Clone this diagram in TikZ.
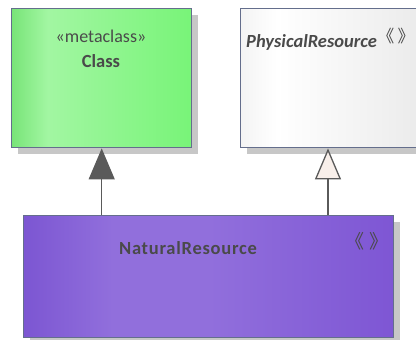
\documentclass[tikz,border=0pt]{standalone}
\usepackage{fontspec}
\setmainfont{Carlito}
\newfontfamily\cjkfont{Noto Sans CJK SC}
\usetikzlibrary{arrows.meta,shadows,positioning}

\definecolor{umlborder}{HTML}{646E8C}
\definecolor{umltext}{HTML}{4A4A4A}
\definecolor{umlline}{HTML}{5A5A5A}
\definecolor{hollowfill}{HTML}{F8EFEA}
\definecolor{greenA}{HTML}{78E478}
\definecolor{greenB}{HTML}{A2F6A2}
\definecolor{greenC}{HTML}{78F478}
\definecolor{greyA}{HTML}{F4F4F4}
\definecolor{greyB}{HTML}{FFFFFF}
\definecolor{greyC}{HTML}{EBEBEB}
\definecolor{purpleA}{HTML}{7C56D2}
\definecolor{purpleB}{HTML}{916FDC}
\definecolor{purpleC}{HTML}{7E56D4}

\pgfdeclarehorizontalshading{greenfill}{100bp}{color(0bp)=(greenA); color(25bp)=(greenA); color(35bp)=(greenB); color(75bp)=(greenC); color(100bp)=(greenC)}
\pgfdeclarehorizontalshading{greyfill}{100bp}{color(0bp)=(greyA); color(25bp)=(greyA); color(35bp)=(greyB); color(75bp)=(greyC); color(100bp)=(greyC)}
\pgfdeclarehorizontalshading{purplefill}{100bp}{color(0bp)=(purpleA); color(25bp)=(purpleA); color(37bp)=(purpleB); color(50bp)=(purpleB); color(75bp)=(purpleC); color(100bp)=(purpleC)}

\begin{document}
\begin{tikzpicture}[x=1pt, y=-1pt,
  umlbox/.style={draw=umlborder, line width=1.4pt, rectangle, anchor=north west, inner sep=0pt,
    general shadow={fill=black!22, shadow xshift=6pt, shadow yshift=-6pt}},
  boxtext/.style={text=umltext, inner sep=0pt, anchor=base, font=\fontsize{18.5}{20}\selectfont},
  guil/.style={text=umltext, inner sep=0pt, font=\cjkfont\fontsize{17}{20}\selectfont},
  generalize/.style={draw=umlline, line width=1.3pt, -{Triangle[length=31pt, width=26pt, fill=#1]}}]

\useasboundingbox (0,0) rectangle (416,340);

\node (class) [umlbox, shading=greenfill, minimum width=180pt, minimum height=139pt] at (11,8) {};
\node (physres) [umlbox, shading=greyfill, minimum width=180pt, minimum height=139pt] at (240,8) {};
\node (natres) [umlbox, shading=purplefill, minimum width=370pt, minimum height=122pt] at (23,215) {};

\node (classstereo) [boxtext, font=\fontsize{18}{20}\selectfont] at (101,42) {«metaclass»};
\node (classname) [boxtext, font=\bfseries\fontsize{18.5}{20}\selectfont] at (101,67) {Class};
\node (physname) [boxtext, anchor=base west, font=\bfseries\itshape\fontsize{18.5}{20}\selectfont] at (246,47) {PhysicalResource};
\node (physguil) [guil, anchor=west] at (physname.east |- 0,36) {《\kern0.2em》};
\node (natguil) [guil, font=\cjkfont\fontsize{19}{20}\selectfont] at (367,241) {《\kern0.25em》};
\node (natname) [boxtext, font=\bfseries\fontsize{18.5}{20}\selectfont\addfontfeatures{LetterSpace=4}] at (188,254) {NaturalResource};

\draw[generalize=umlline] (natres.north -| class.south) -- (class.south);
\draw[generalize=hollowfill] (natres.north -| 328,0) -- (physres.south -| 328,0);

\end{tikzpicture}
\end{document}
